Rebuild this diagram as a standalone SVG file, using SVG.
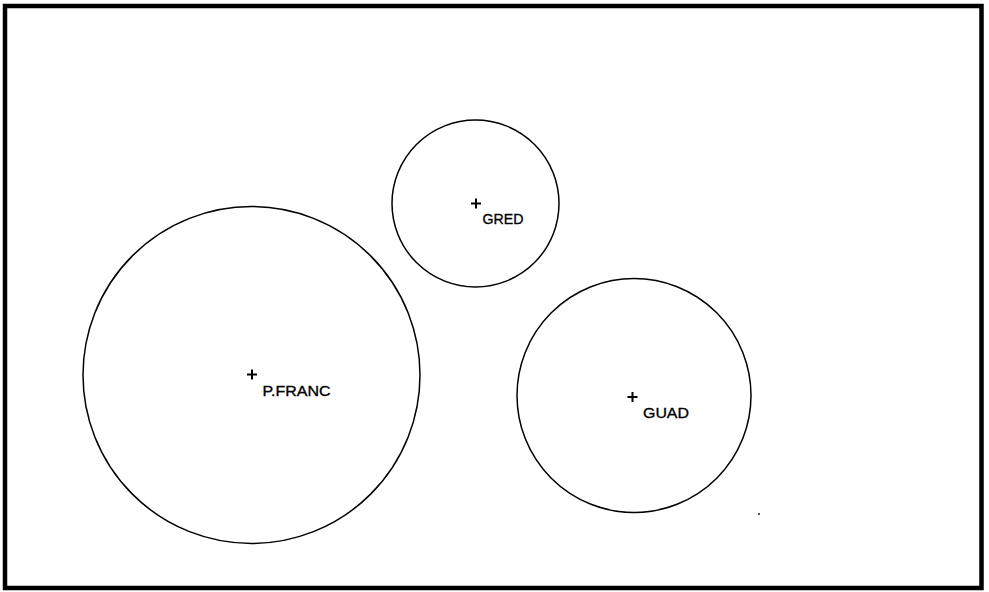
<svg xmlns="http://www.w3.org/2000/svg" width="989" height="592" viewBox="0 0 989 592">
<style>
.c{fill:none;stroke:#000;stroke-width:1.5}
.p{stroke:#000;stroke-width:2}
.t{font-family:"Liberation Sans",Arial,sans-serif;font-size:15.5px;fill:#000;stroke:#000;stroke-width:0.35}
</style>
<rect x="0" y="0" width="989" height="592" fill="#fff"/>
<rect x="5" y="6" width="976.5" height="582" fill="none" stroke="#000" stroke-width="4.5"/>
<g id="gred">
<circle class="c" cx="475.5" cy="203.5" r="83.5"/>
<path class="p" d="M471 203.5h10M476 198.5v10"/>
<text class="t" x="482.5" y="223.5" textLength="41" lengthAdjust="spacingAndGlyphs">GRED</text>
</g>
<g id="pfranc">
<circle class="c" cx="251.5" cy="375" r="168.5"/>
<path class="p" d="M247 374.5h10M252 369.5v10"/>
<text class="t" x="262.5" y="395.5" textLength="68" lengthAdjust="spacingAndGlyphs">P.FRANC</text>
</g>
<g id="guad">
<circle class="c" cx="634" cy="395.5" r="117"/>
<path class="p" d="M627.5 397h10M632.5 392v10"/>
<text class="t" x="643" y="417.5" textLength="46" lengthAdjust="spacingAndGlyphs">GUAD</text>
</g>
<g id="connectors"></g>
<rect x="758" y="513" width="2" height="2" fill="#555"/>
</svg>
